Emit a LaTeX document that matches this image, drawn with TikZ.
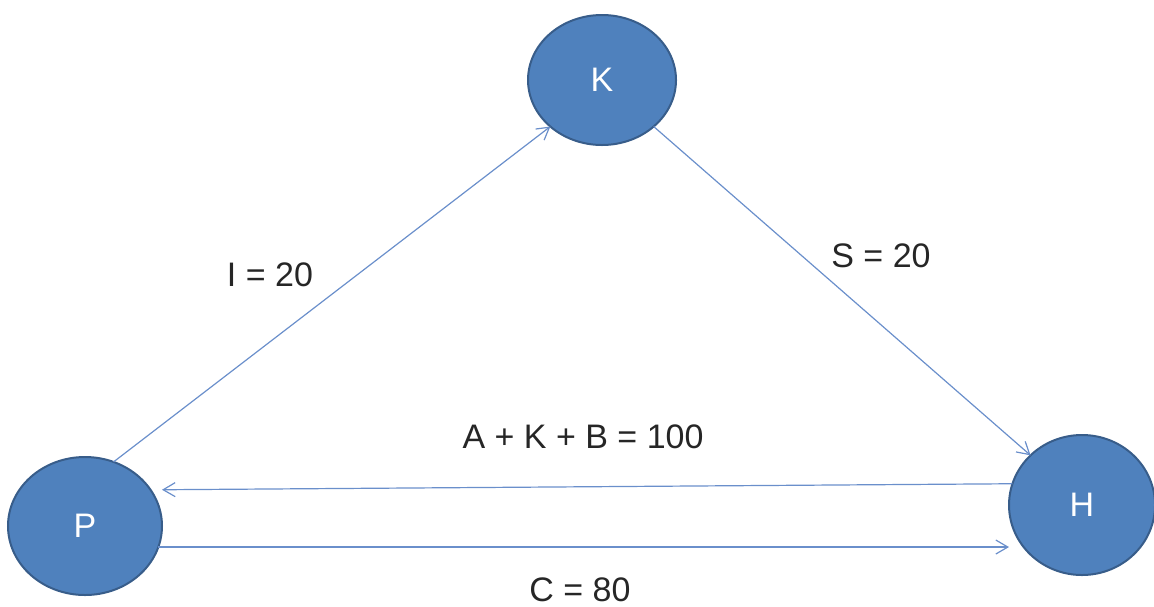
\documentclass[tikz,border=0pt]{standalone}
\usepackage{fontspec}
\setmainfont{Liberation Sans}
\usepackage{tikz}
\usetikzlibrary{positioning,arrows.meta,shapes.geometric}
\definecolor{nodeblue}{HTML}{4F81BD}
\definecolor{nodeedge}{HTML}{385D8A}
\definecolor{linkblue}{HTML}{6A8FCB}
\definecolor{ink}{HTML}{262626}
\tikzset{
  party/.style={ellipse,draw=nodeedge,fill=nodeblue,line width=1pt,outer sep=0pt,text=white,align=center},
  flow/.style={-{Straight Barb[length=6pt,width=7pt]},draw=linkblue,line width=0.6pt},
  amount/.style={text=ink,inner sep=0pt,align=center}}

\begin{document}
\begin{tikzpicture}[x=0.5pt,y=-0.5pt,font=\fontsize{17}{20}\selectfont]
  \useasboundingbox (0,0) rectangle (1154,606);
  \node[party,minimum width=74pt,minimum height=65pt] (K) at (602,80) {K};
  \node[party,minimum width=77pt,minimum height=69pt] (P) at (85,526) {P};
  \node[party,minimum width=73pt,minimum height=70pt] (H) at (1082,505) {H};
  \node[amount] (i) at (270,275) {I = 20};
  \node[amount] (s) at (881,256) {S = 20};
  \node[amount] (akb) at (583,437) {A + K + B = 100};
  \node[amount] (c) at (580,590) {C = 80};
  \draw[flow] (P.66) -- (K.222);
  \draw[flow] (K.-42) -- (H.136);
  \draw[flow] (H.163) -- ([yshift=-3pt]P.east |- H.163);
  \draw[flow] (P.-16) -- (P.-16 -| H.west);
\end{tikzpicture}
\end{document}
